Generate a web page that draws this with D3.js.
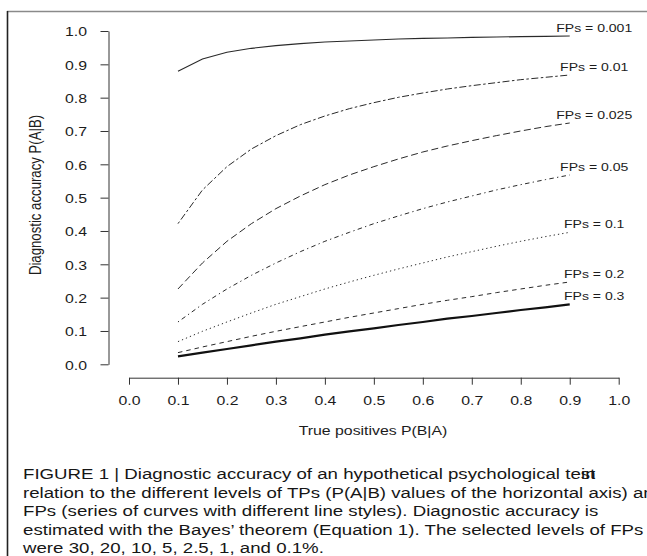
<!DOCTYPE html>
<html>
<head>
<meta charset="utf-8">
<script src="https://cdn.jsdelivr.net/npm/d3@7"></script>
<style>
  html, body { margin: 0; padding: 0; background: #fff; }
  svg { display: block; font-family: "Liberation Sans", Arial, sans-serif; }
</style>
</head>
<body>
<svg id="chart" width="647" height="556"></svg>
<script>
// true positive levels on the horizontal axis
const tpLevels = [0.1, 0.15, 0.2, 0.25, 0.3, 0.35, 0.4, 0.45, 0.5, 0.55, 0.6, 0.65, 0.7, 0.75, 0.8, 0.85, 0.9];

// diagnostic accuracy, one array per level of false positives
const acc001 = [0.879, 0.916, 0.936, 0.948, 0.956, 0.962, 0.967, 0.970, 0.973, 0.976, 0.978, 0.979, 0.981, 0.982, 0.983, 0.984, 0.985];
const acc01 = [0.422, 0.523, 0.593, 0.646, 0.686, 0.719, 0.745, 0.767, 0.785, 0.801, 0.814, 0.826, 0.836, 0.845, 0.854, 0.861, 0.868];
const acc025 = [0.226, 0.304, 0.369, 0.422, 0.467, 0.505, 0.539, 0.568, 0.593, 0.616, 0.637, 0.655, 0.671, 0.686, 0.700, 0.713, 0.724];
const acc05 = [0.127, 0.180, 0.226, 0.267, 0.304, 0.338, 0.369, 0.396, 0.422, 0.445, 0.467, 0.487, 0.505, 0.523, 0.539, 0.554, 0.568];
const acc1 = [0.068, 0.099, 0.127, 0.154, 0.180, 0.203, 0.226, 0.247, 0.267, 0.286, 0.304, 0.322, 0.338, 0.354, 0.369, 0.383, 0.396];
const acc2 = [0.035, 0.052, 0.068, 0.084, 0.099, 0.113, 0.127, 0.141, 0.154, 0.167, 0.180, 0.192, 0.203, 0.215, 0.226, 0.237, 0.247];
const acc3 = [0.024, 0.035, 0.046, 0.057, 0.068, 0.078, 0.089, 0.099, 0.108, 0.118, 0.127, 0.137, 0.145, 0.154, 0.163, 0.171, 0.180];

const fpLabels = ['FPs = 0.001', 'FPs = 0.01', 'FPs = 0.025', 'FPs = 0.05', 'FPs = 0.1', 'FPs = 0.2', 'FPs = 0.3'];
const xTicks = [0, 0.1, 0.2, 0.3, 0.4, 0.5, 0.6, 0.7, 0.8, 0.9, 1.0];
const yTicks = [0, 0.1, 0.2, 0.3, 0.4, 0.5, 0.6, 0.7, 0.8, 0.9, 1.0];

const captionLines = [
  'FIGURE 1 | Diagnostic accuracy of an hypothetical psychological test',
  'relation to the different levels of TPs (P(A|B) values of the horizontal axis) and',
  'FPs (series of curves with different line styles). Diagnostic accuracy is',
  'estimated with the Bayes\u2019 theorem (Equation 1). The selected levels of FPs',
  'were 30, 20, 10, 5, 2.5, 1, and 0.1%.',
];

// line styles, same order as fpLabels (R lty 1..6, then 1 again, thick)
const lineStyles = [
  { dash: null, width: 1.1 },
  { dash: '2.5,2.5,7,2.5', width: 1 },
  { dash: '7,3.5', width: 1 },
  { dash: '1.3,3.3,4.5,3.3', width: 1 },
  { dash: '1.3,3', width: 1 },
  { dash: '4.5,4', width: 1 },
  { dash: null, width: 2.2 },
];

const series = [acc001, acc01, acc025, acc05, acc1, acc2, acc3];

const SX = 1.2; // the figure is a bit wider than tall: glyphs are stretched
const ink = '#1c1c1c';
const svg = d3.select('#chart');

// frame of the figure
svg.append('line').attr('x1', 7).attr('x2', 647).attr('y1', 11.5).attr('y2', 11.5)
  .attr('stroke', '#8a8a8a').attr('stroke-width', 1.5);
svg.append('line').attr('x1', 7.5).attr('x2', 7.5).attr('y1', 11).attr('y2', 556)
  .attr('stroke', '#222').attr('stroke-width', 1.6);

const x = d3.scaleLinear().domain([0, 1]).range([129, 618.7]);
const y = d3.scaleLinear().domain([0, 1]).range([364.3, 31]);

const fontAx = 13.2;

// y axis (R style, detached)
const gy = svg.append('g').attr('transform', 'translate(108.5,0)')
  .call(d3.axisLeft(y).tickValues(yTicks).tickFormat(d3.format('.1f')).tickSize(8).tickSizeOuter(0));
gy.selectAll('path, line').attr('stroke', '#333');
gy.selectAll('text')
  .attr('font-size', fontAx).attr('font-family', null).attr('fill', ink)
  .attr('x', -21.5 / SX).attr('dy', null).attr('y', 4.7)
  .attr('transform', `scale(${SX},1)`);

// x axis
const gx = svg.append('g').attr('transform', 'translate(0,377.7)')
  .call(d3.axisBottom(x).tickValues(xTicks).tickFormat(d3.format('.1f')).tickSize(7).tickSizeOuter(0));
gx.selectAll('path, line').attr('stroke', '#333');
gx.selectAll('text')
  .attr('font-size', fontAx).attr('font-family', null).attr('fill', ink)
  .attr('dy', null).attr('y', 27.7)
  .attr('transform', `scale(${SX},1)`);

// axis titles
svg.append('text')
  .attr('transform', `translate(373,435) scale(${SX},1)`)
  .attr('text-anchor', 'middle').attr('font-size', fontAx).attr('fill', ink)
  .text('True positives P(B|A)');
svg.append('text')
  .attr('transform', `translate(40.5,195) scale(${SX},1) rotate(-90)`)
  .attr('text-anchor', 'middle').attr('font-size', fontAx).attr('fill', ink)
  .text('Diagnostic accuracy P(A|B)');

// curves
const line = d3.line().x((d, i) => x(tpLevels[i])).y((d) => y(d));
svg.append('g').selectAll('path')
  .data(series)
  .join('path')
  .attr('d', line)
  .attr('fill', 'none')
  .attr('stroke', (d, i) => (i === 6 ? '#111' : '#2a2a2a'))
  .attr('stroke-width', (d, i) => lineStyles[i].width)
  .attr('stroke-dasharray', (d, i) => lineStyles[i].dash);

// curve labels, above the end of each curve
svg.append('g').selectAll('text')
  .data(series)
  .join('text')
  .attr('transform', (d) => `translate(${x(0.95)},${y(d[d.length - 1] + 0.025) + 4.2}) scale(${SX},1)`)
  .attr('text-anchor', 'middle').attr('font-size', 11.7).attr('fill', ink)
  .text((d, i) => fpLabels[i]);

// caption
const capSX = 1.212;
const cap = svg.append('g').attr('fill', '#161616').attr('font-size', 15.4);
captionLines.forEach((t, i) => {
  cap.append('text')
    .attr('transform', `translate(23,${479 + i * 18.5}) scale(${capSX},1)`)
    .text(t);
});
cap.append('text')
  .attr('transform', `translate(581,479) scale(${capSX},1)`)
  .text('in');
</script>
</body>
</html>
